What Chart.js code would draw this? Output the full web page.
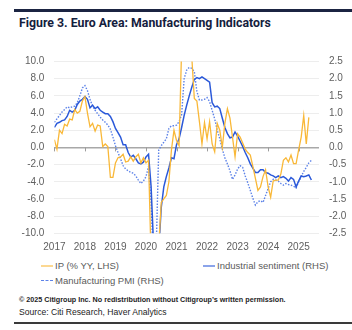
<!DOCTYPE html>
<html>
<head>
<meta charset="utf-8">
<script src="https://cdn.jsdelivr.net/npm/chart.js@4/dist/chart.umd.min.js"></script>
<style>
    body { margin: 0; background: #fff; }
    #page { position: relative; width: 352px; height: 330px; overflow: hidden; background: #fff; }
    .bar-top { position: absolute; left: 14px; top: 9px; width: 338px; height: 3px; background: #1b2442; }
    .title { position: absolute; left: 19px; top: 16px; font: bold 12.3px Roboto, sans-serif; color: #14203d; white-space: nowrap; }
    #chartWrap { position: absolute; left: 0; top: 0; }
    .legend-item { position: absolute; display: flex; align-items: center; font: 9.5px 'Liberation Sans', Arial, sans-serif; color: #5a5a5a; white-space: nowrap; }
    .legend-item .swatch { width: 12px; height: 0; margin-right: 2px; border-top: 2px solid; }
    .note { position: absolute; left: 19px; font-family: 'Liberation Sans', Arial, sans-serif; color: #1d1d1d; white-space: nowrap; }
    .bar-bottom { position: absolute; left: 14px; top: 322px; width: 338px; height: 2px; background: #3a3a3a; }
</style>
</head>
<body>
<div id="page">
    <div class="bar-top"></div>
    <div class="title">Figure 3. Euro Area: Manufacturing Indicators</div>
    <div id="chartWrap"><canvas id="charMfgIndicators" width="352" height="258"></canvas></div>
    <div id="legendMfg"></div>
    <div class="note" style="top:295px; font-size:7.2px; font-weight:bold;">© 2025 Citigroup Inc. No redistribution without Citigroup’s written permission.</div>
    <div class="note" style="top:307px; font-size:8.6px;">Source: Citi Research, Haver Analytics</div>
    <div class="bar-bottom"></div>
</div>
<script>
/* Datos: mensuales desde ene-2017 */

const yearLabels = ['2017', '2018', '2019', '2020', '2021', '2022', '2023', '2024', '2025'];
const leftTicks = [-10, -8, -6, -4, -2, 0, 2, 4, 6, 8, 10];
const rightTicks = [-2.5, -2, -1.5, -1, -0.5, 0, 0.5, 1, 1.5, 2, 2.5];

// IP (% YY, LHS)
const ipYoY = [
    0.9, -0.2, 2.0, 1.6, 2.7, 2.5, 3.3, 3.2, 4.4, 4.0, 4.2, 5.4,
    5.9, 4.0, 2.4, 2.8, 1.9, 2.6, 2.5, 0.1, 0.4, 0.1, -3.5, -3.5,
    -1.8, -1.2, -1.1, -0.8, -1.7, -1.6, -1.1, -1.6, -1.1, -0.8, -1.8, -1.2,
    -1.8, -1.5, -12.9, -28.0, -20.5, -11.5, -6.4, -6.0, -5.6, -4.0, -0.3, 2.0,
    0.8, 0.2, 11.5, 39.0, 20.5, 20.5, 10.5, 5.7, 5.4, 3.0, 0.4, 2.9,
    1.0, 3.0, 0.4, -0.5, 2.8, 2.0, 0.0, 2.8, 4.5, 3.4, 1.2, -1.1,
    1.6, 1.2, 0.5, -0.2, -0.6, -0.9, -2.2, -3.6, -5.0, -4.6, -3.4, -2.6,
    -4.6, -5.8, -3.9, -3.8, -3.8, -3.1, -1.5, -1.2, -1.7, -0.9, -1.9, -1.9,
    -0.3, 1.2, 3.7, 0.4, 3.5
];

// Industrial sentiment (RHS)
const industrialSentiment = [
    0.58, 0.70, 0.73, 0.78, 0.80, 0.90, 1.08, 1.03, 1.08, 1.25, 1.35, 1.40,
    1.48, 1.40, 1.15, 1.23, 1.13, 1.18, 1.08, 1.03, 0.98, 0.98, 0.90, 0.75,
    0.55, 0.43, 0.30, 0.08, 0.08, -0.15, -0.28, -0.23, -0.33, -0.45, -0.48, -0.43,
    -0.28, -0.20, -1.13, -2.88, -3.25, -3.00, -1.75, -1.15, -0.85, -0.60, -0.30, -0.33,
    0.08, 0.25, 0.58, 0.93, 1.23, 1.50, 1.75, 1.98, 2.03, 2.00, 2.05, 2.00,
    1.95, 1.90, 1.30, 1.18, 1.20, 1.13, 0.85, 0.58, 0.40, 0.28, 0.30, 0.45,
    0.33, 0.18, 0.03, -0.15, -0.30, -0.48, -0.60, -0.73, -0.73, -0.65, -0.65, -0.73,
    -0.75, -0.80, -0.83, -0.88, -0.83, -0.88, -0.85, -0.90, -0.98, -0.88, -0.93, -1.15,
    -0.98, -0.83, -0.85, -0.83, -0.80, -0.95
];

// Manufacturing PMI (RHS)
const manufacturingPmi = [
    0.73, 0.83, 0.93, 1.03, 1.10, 1.18, 1.15, 1.18, 1.20, 1.30, 1.50, 1.73,
    1.80, 1.65, 1.40, 1.20, 1.08, 0.98, 0.88, 0.80, 0.73, 0.65, 0.53, 0.30,
    0.05, -0.15, -0.33, -0.53, -0.63, -0.68, -0.73, -0.75, -0.83, -0.95, -1.05, -0.98,
    -0.85, -0.55, -1.63, -3.50, -3.00, -0.08, 0.05, 0.15, 0.25, 0.55, 0.63, 0.63,
    0.65, 0.75, 0.95, 2.00, 2.25, 2.33, 2.30, 2.20, 1.63, 1.38, 1.38, 1.40,
    1.45, 1.33, 1.08, 0.83, 0.50, 0.25, -0.05, -0.30, -0.48, -0.68, -0.93, -0.80,
    -0.63, -0.53, -0.58, -0.83, -1.03, -1.25, -1.48, -1.68, -1.58, -1.55, -1.60, -1.40,
    -1.20, -1.00, -0.93, -0.95, -0.98, -1.05, -1.10, -1.05, -1.08, -1.10, -1.13, -1.18,
    -1.00, -0.85, -0.70, -0.58, -0.45, -0.38
];

const tickFont = { family: "'Liberation Sans', Arial, sans-serif", size: 10 };

toPoints = (values) => values.map((v, i) => ({ x: i, y: v }));

// marcas de año sobre la linea de cero
const zeroLineTicks = {
    id: 'zeroLineTicks',
    beforeDatasetsDraw(chart) {
        const { ctx, scales: { x, y } } = chart;
        const y0 = y.getPixelForValue(0);
        ctx.save();
        ctx.strokeStyle = '#9c9c9c';
        ctx.lineWidth = 1;
        x.ticks.forEach((t) => {
            const px = Math.round(x.getPixelForValue(t.value)) + 0.5;
            ctx.beginPath();
            ctx.moveTo(px, y0);
            ctx.lineTo(px, y0 + 4);
            ctx.stroke();
        });
        ctx.restore();
    },
};

/* Grafico */

graphicMfgIndicators = () => {
    const cmi = document.getElementById('charMfgIndicators');
    const charMfgIndicators = new Chart(cmi, {
        type: 'line',
        data: {
            datasets: [{
                label: 'IP (% YY, LHS)',
                data: toPoints(ipYoY),
                yAxisID: 'y',
                borderColor: '#f9b838',
                borderWidth: 1.3,
            }, {
                label: 'Industrial sentiment (RHS)',
                data: toPoints(industrialSentiment),
                yAxisID: 'y1',
                borderColor: '#2b59d9',
                borderWidth: 1.5,
            }, {
                label: 'Manufacturing PMI (RHS)',
                data: toPoints(manufacturingPmi),
                yAxisID: 'y1',
                borderColor: '#5c82e8',
                borderWidth: 1.4,
                borderDash: [1.5, 1.5],
            }, ],
        },
        plugins: [zeroLineTicks],
        options: {
            responsive: false,
            animation: false,
            devicePixelRatio: 1,
            elements: {
                point: { radius: 0 },
                line: { tension: 0 },
            },
            layout: {
                padding: { top: 61.5, left: 0, right: 0, bottom: 0 },
            },
            scales: {
                x: {
                    type: 'linear',
                    min: 0,
                    max: 104,
                    afterBuildTicks: (s) => { s.ticks = yearLabels.map((l, i) => ({ value: i * 12 })); },
                    afterFit: (s) => { s.height = 24.7; },
                    ticks: {
                        callback: (v, i) => yearLabels[i],
                        font: tickFont,
                        color: '#5f5f5f',
                        padding: 7.5,
                        maxRotation: 0,
                        autoSkip: false,
                    },
                    grid: { display: false, drawTicks: false },
                    border: { display: false },
                },
                y: {
                    position: 'left',
                    min: -10,
                    max: 10,
                    afterBuildTicks: (s) => { s.ticks = leftTicks.map((v) => ({ value: v })); },
                    afterFit: (s) => { s.width = 54.4; },
                    ticks: {
                        callback: (v) => v.toFixed(1),
                        font: tickFont,
                        color: '#5f5f5f',
                        padding: 10,
                    },
                    grid: {
                        drawTicks: false,
                        color: (c) => (c.tick && c.tick.value === 0 ? '#a8a8a8' : '#ededed'),
                        lineWidth: (c) => (c.tick && c.tick.value === 0 ? 1.5 : 1),
                    },
                    border: { display: false },
                },
                y1: {
                    position: 'right',
                    min: -2.5,
                    max: 2.5,
                    afterBuildTicks: (s) => { s.ticks = rightTicks.map((v) => ({ value: v })); },
                    afterFit: (s) => { s.width = 33; },
                    ticks: {
                        callback: (v) => v.toFixed(1),
                        font: tickFont,
                        color: '#5f5f5f',
                        padding: 10,
                    },
                    grid: { display: false, drawTicks: false },
                    border: { display: false },
                },
            },
            plugins: {
                legend: { display: false },
                tooltip: { enabled: false },
            },
        },
    });

    /* Leyenda */
    const spots = [{ left: 41, top: 260 }, { left: 203, top: 260 }, { left: 41, top: 275 }];
    const legend = document.getElementById('legendMfg');
    charMfgIndicators.data.datasets.forEach((ds, i) => {
        const item = document.createElement('div');
        item.className = 'legend-item';
        item.style.left = spots[i].left + 'px';
        item.style.top = spots[i].top + 'px';
        const sw = document.createElement('span');
        sw.className = 'swatch';
        sw.style.borderTopColor = ds.borderColor;
        if (ds.borderDash) {
            sw.style.borderTopStyle = 'dashed';
            sw.style.borderTopWidth = '1px';
        } else {
            sw.style.opacity = 0.55;
        }
        const txt = document.createElement('span');
        txt.textContent = ds.label;
        item.appendChild(sw);
        item.appendChild(txt);
        legend.appendChild(item);
    });
};

graphicMfgIndicators();
</script>
</body>
</html>
